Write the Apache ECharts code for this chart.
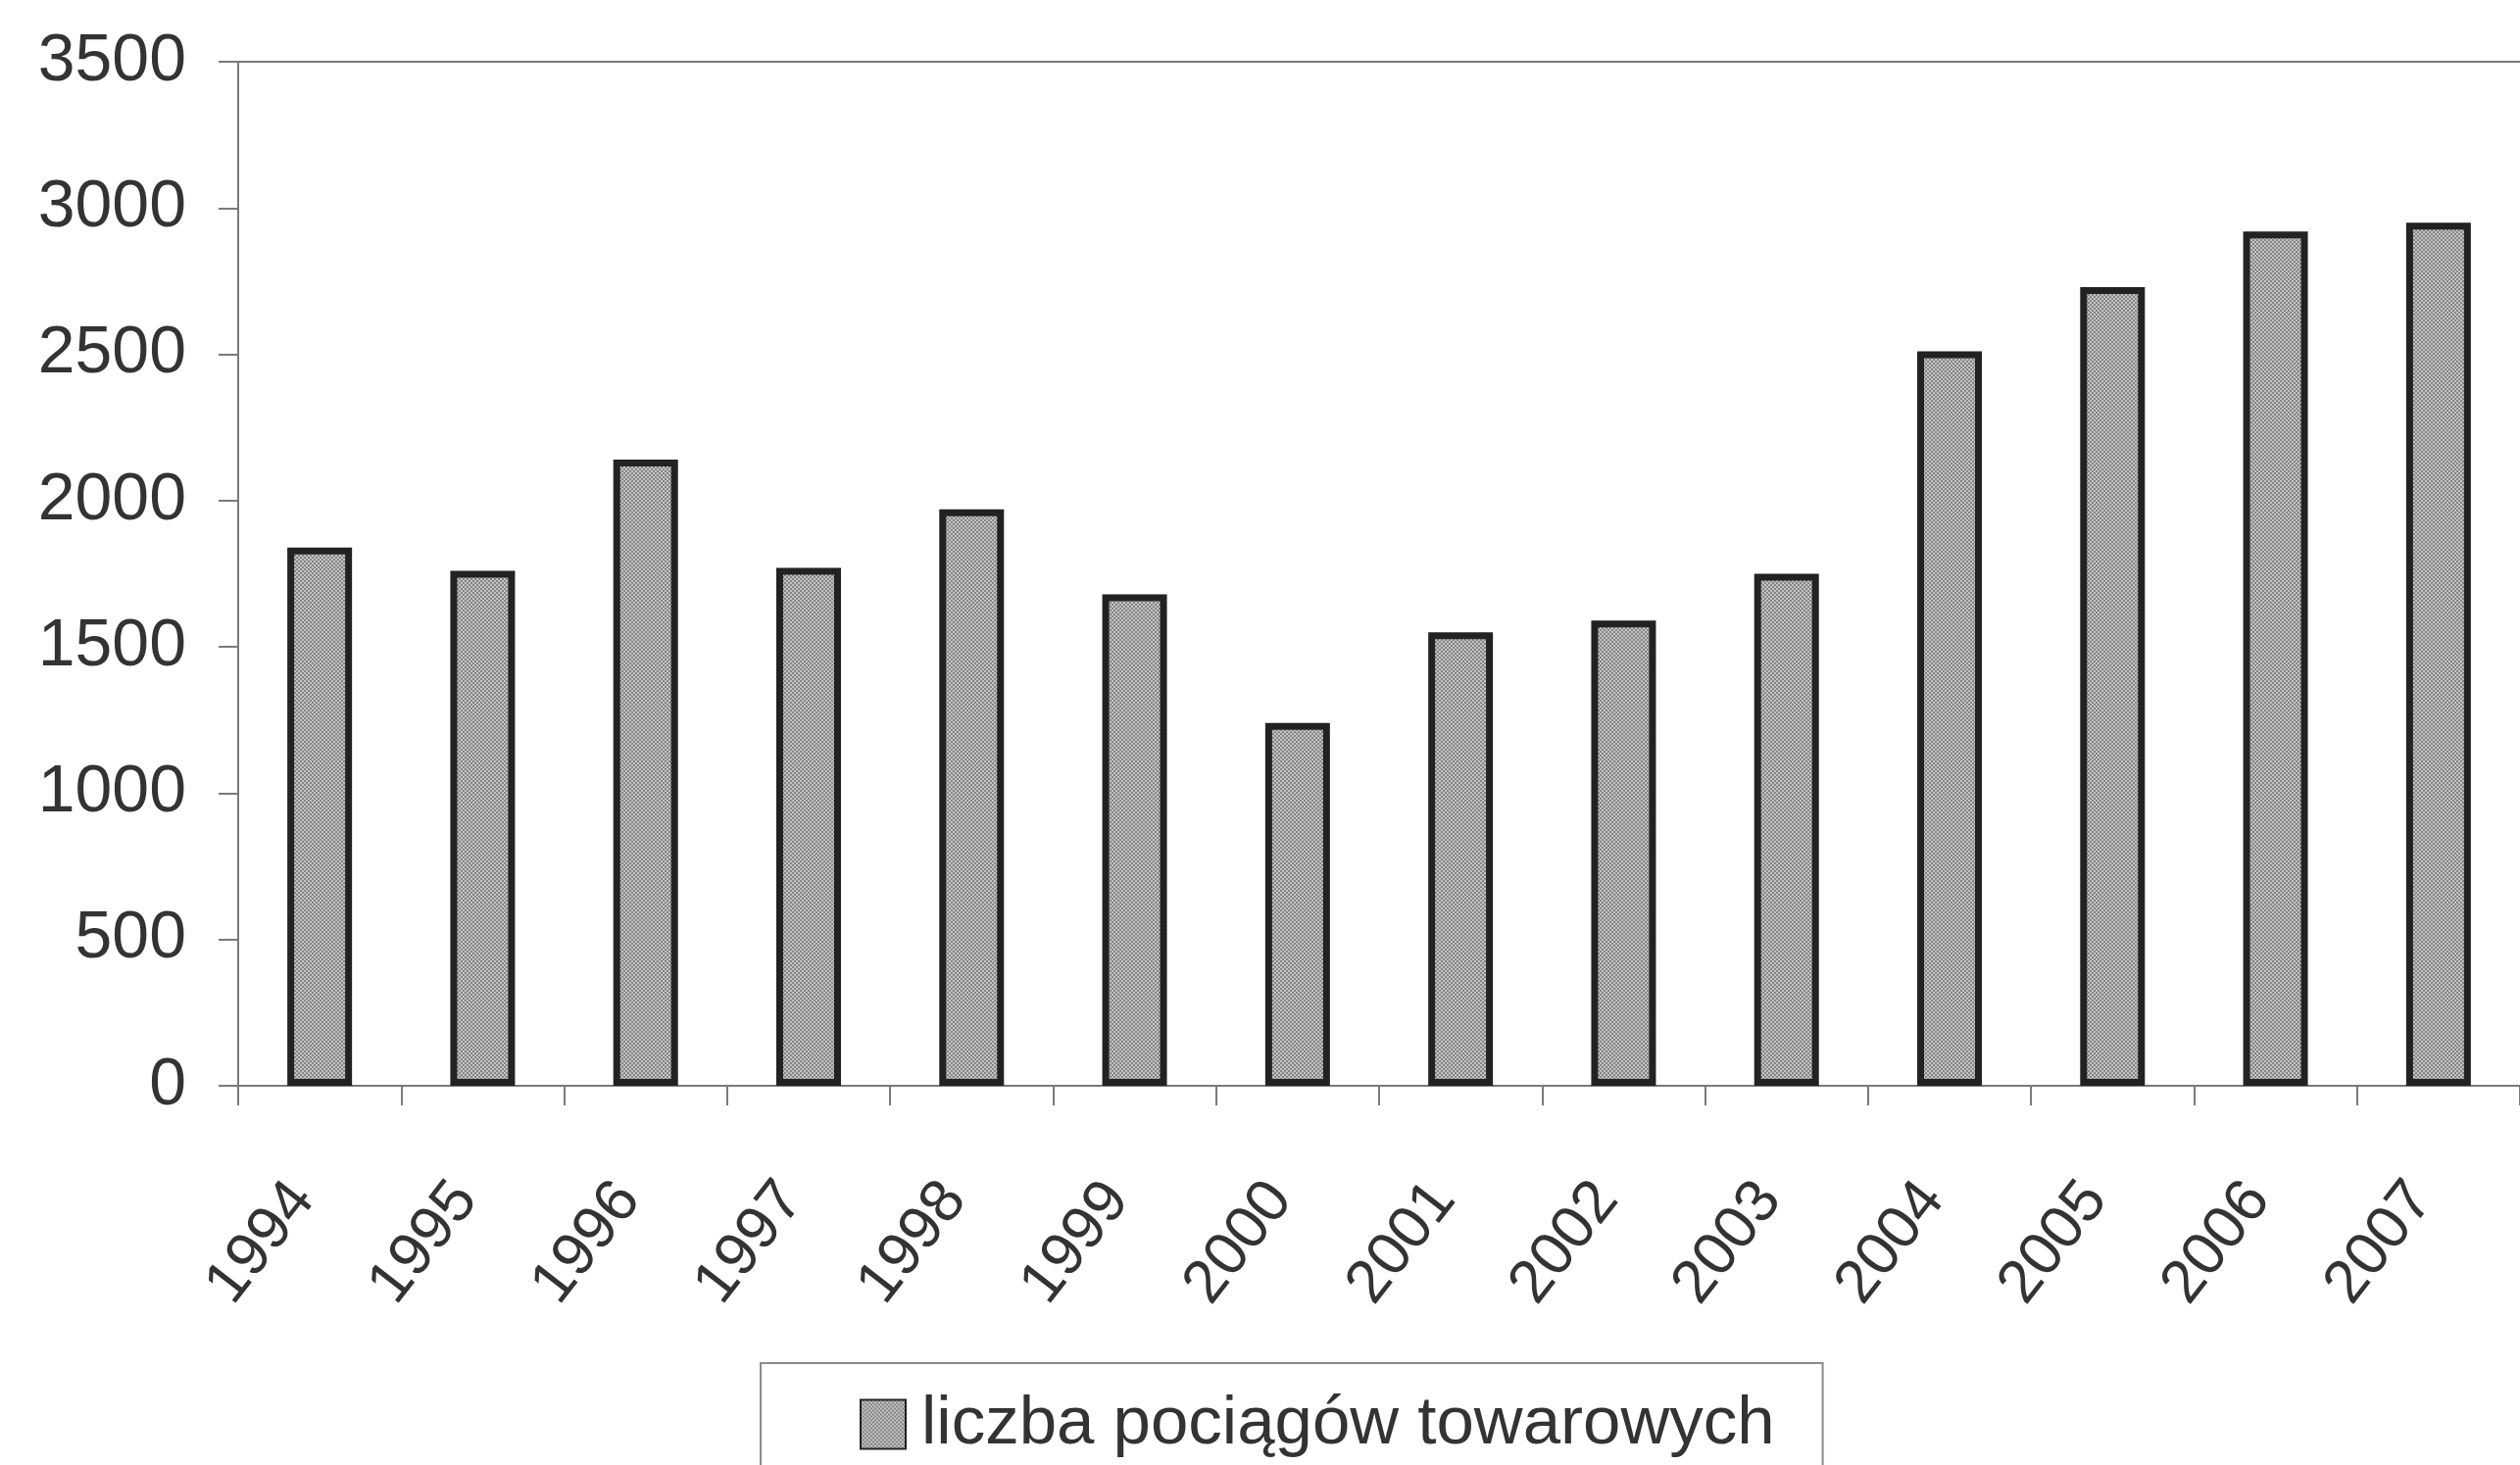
<!DOCTYPE html>
<html>
<head>
<meta charset="utf-8">
<script src="https://cdn.jsdelivr.net/npm/echarts@6/dist/echarts.min.js"></script>
<style>
  html, body { margin: 0; padding: 0; background: #ffffff; }
  #chart { width: 2571px; height: 1495px; }
</style>
</head>
<body>
<div id="chart"></div>
<script>
// Liczba pociągów towarowych w latach 1994–2007
const years = ['1994', '1995', '1996', '1997', '1998', '1999', '2000',
               '2001', '2002', '2003', '2004', '2005', '2006', '2007'];
const trainCounts = [1840, 1760, 2140, 1770, 1970, 1680, 1240,
                     1550, 1590, 1750, 2510, 2730, 2920, 2950];
const seriesName = 'liczba pociągów towarowych';
const yTicks = [0, 500, 1000, 1500, 2000, 2500, 3000, 3500];

// halftone-like grey fill for the bars
function makeHalftone() {
  const c = document.createElement('canvas');
  c.width = 4; c.height = 4;
  const g = c.getContext('2d');
  g.fillStyle = '#858585';
  g.fillRect(0, 0, 4, 4);
  g.fillStyle = '#c4c4c4';
  g.fillRect(0, 0, 2, 2);
  g.fillRect(2, 2, 2, 2);
  return c;
}
const halftone = makeHalftone();

const axisGrey = '#7a7a7a';
const textColor = '#333333';
const font = '"Liberation Sans", Arial, Helvetica, sans-serif';

const chart = echarts.init(document.getElementById('chart'), null, { renderer: 'canvas' });
chart.setOption({
  backgroundColor: '#ffffff',
  animation: false,
  grid: { left: 243, top: 63, width: 2352, height: 1045, containLabel: false },
  legend: {
    data: [{ name: seriesName, icon: 'rect' }],
    left: 776,
    top: 1391,
    orient: 'horizontal',
    itemWidth: 46,
    itemHeight: 50,
    itemGap: 0,
    padding: [28, 49, 40, 101],
    borderColor: '#8a8a8a',
    borderWidth: 2,
    textStyle: { fontFamily: font, fontSize: 69, color: textColor, padding: [0, 0, 0, 11] }
  },
  xAxis: [{
    type: 'category',
    data: years,
    position: 'bottom',
    axisLine: { show: true, lineStyle: { color: axisGrey, width: 2 } },
    axisTick: { show: true, length: 20, lineStyle: { color: axisGrey, width: 2 } },
    axisLabel: {
      rotate: 52,
      margin: 84,
      padding: [0, 28, 0, 0],
      fontFamily: font,
      fontSize: 62,
      color: textColor
    },
    splitLine: { show: false }
  }, {
    type: 'category',
    data: years,
    position: 'top',
    axisLine: { show: true, lineStyle: { color: axisGrey, width: 2 } },
    axisTick: { show: false },
    axisLabel: { show: false },
    splitLine: { show: false }
  }],
  yAxis: {
    type: 'value',
    min: yTicks[0],
    max: yTicks[yTicks.length - 1],
    interval: 500,
    axisLine: { show: true, lineStyle: { color: axisGrey, width: 2 } },
    axisTick: { show: true, length: 20, lineStyle: { color: axisGrey, width: 2 } },
    axisLabel: {
      margin: 53,
      fontFamily: font,
      fontSize: 68,
      color: textColor,
      formatter: v => String(v)
    },
    splitLine: { show: false }
  },
  series: [{
    name: seriesName,
    type: 'bar',
    data: trainCounts,
    barWidth: 66,
    itemStyle: {
      color: { image: halftone, repeat: 'repeat' },
      borderColor: '#222222',
      borderWidth: 7
    }
  }]
});
</script>
</body>
</html>
